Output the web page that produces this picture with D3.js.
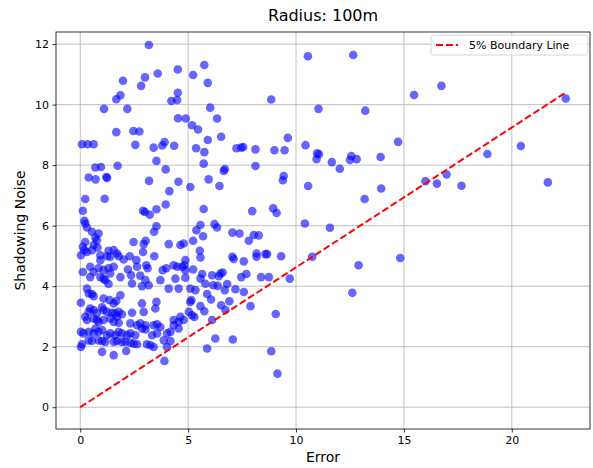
<!DOCTYPE html>
<html>
<head>
<meta charset="utf-8">
<script src="https://cdn.jsdelivr.net/npm/d3@7"></script>
<style>
  body { margin: 0; background: #fff; }
  text { font-family: "DejaVu Sans", sans-serif; fill: #000; }
</style>
</head>
<body>
<svg id="chart" width="593" height="468"></svg>
<script>
const TITLE = "Radius: 100m";
const X_LABEL = "Error";
const Y_LABEL = "Shadowing Noise";
const LEGEND_LABEL = "5% Boundary Line";

const xTicks = [0, 5, 10, 15, 20];
const yTicks = [0, 2, 4, 6, 8, 10, 12];

// boundary line endpoints (error, noise)
const boundaryX = [0, 22.5];
const boundaryY = [0, 10.4];

// scatter points
const errorVals = [
  3.18, 4.52, 5.23, 3.59, 3.0, 1.98, 2.82, 4.52, 1.86, 1.67, 4.22, 4.49, 1.1, 2.18, 4.53, 4.89, 5.18, 5.46, 1.67, 2.46,
  2.74, 0.08, 0.34, 0.62, 2.55, 3.4, 3.8, 3.91, 4.35, 5.37, 3.53,
  5.75, 5.91, 10.55, 8.85, 6.02, 11.04, 6.34, 5.91, 6.53, 9.62, 5.75, 7.24, 7.46, 7.55, 8.12, 9.0, 9.47, 10.44, 10.98,
  11.06, 10.95,
  12.65, 15.47, 16.74, 13.21, 22.5, 14.73, 11.66, 12.56, 12.81, 13.92, 18.87, 20.42, 12.03, 12.5, 16.0, 16.53, 16.98, 17.67,
  21.67, 13.95, 13.18, 11.57, 14.83, 12.9, 12.61,
  5.72, 6.65, 6.7, 8.12, 9.43, 9.39, 10.56, 5.95, 6.45, 5.1, 5.72, 7.97, 8.94, 9.1, 10.41, 5.57, 5.38, 6.22, 6.34, 5.69,
  5.23, 7.05, 7.38, 8.04, 8.27, 7.81, 5.54, 5.57, 7.05, 7.11, 8.17, 8.17, 8.58, 8.66, 9.31, 7.58, 10.75, 5.23, 5.65, 5.57,
  6.11, 6.5, 6.6, 6.42, 7.46, 7.7, 8.38, 8.74, 9.71,
  5.1, 5.34, 5.8, 6.16, 6.37, 6.81, 6.7, 7.19, 7.58, 5.88, 6.06, 5.1, 6.53, 6.91, 5.57, 5.75, 6.73, 7.89, 5.18, 5.29,
  6.11, 9.06, 6.26, 7.07, 5.88, 8.85, 9.14,
  3.96, 0.7, 0.96, 1.73, 0.39, 0.71, 1.21, 1.24, 3.19, 4.55, 4.13, 0.23, 1.13, 3.96, 0.12, 2.91, 3.22, 3.53, 3.0, 0.19,
  0.23, 3.53, 3.42, 0.31, 0.54, 0.85, 0.7, 0.23, 0.12, 0.19, 0.31, 0.03, 0.62, 0.77, 0.8, 0.54, 2.47, 3.03, 2.94, 4.1,
  4.64, 4.79, 2.91, 3.43, 1.31, 1.55, 1.7, 1.39, 1.24, 1.78, 0.93, 0.93, 2.01, 2.29, 2.6, 0.46, 0.85, 0.62, 1.08, 1.31,
  1.55, 1.39, 0.12, 2.21, 2.63, 3.06, 3.12, 2.35, 2.78, 3.82, 3.99, 4.33, 4.49, 4.87, 4.83, 4.72, 4.87, 0.46, 1.08, 1.86,
  4.41, 4.87,
  0.93, 1.16, 1.31, 2.4, 3.02, 3.17, 2.86, 3.71, 4.1, 4.56, 0.31, 0.39, 0.54, 0.62, 0.03, 1.08, 1.36, 1.55, 1.67, 1.86,
  2.86, 2.94, 3.53, 3.48, 2.4, 0.46, 0.39, 0.62, 0.77, 1.01, 1.08, 1.24, 1.47, 1.62, 1.78, 1.93, 0.23, 0.31, 0.62, 0.77,
  0.85, 1.08, 1.39, 1.55, 1.7, 1.78, 2.32, 2.63, 2.78, 3.02, 2.86, 3.4, 3.56, 3.71, 3.33, 4.33, 4.56, 4.56, 4.33, 4.64,
  4.79, 5.03, 5.15, 0.03, 0.39, 0.15, 0.62, 0.7, 0.85, 1.01, 1.24, 1.39, 1.62, 1.78, 1.93, 2.17, 2.32, 2.55, 3.02, 3.56,
  4.02, 4.18, 0.39, 0.54, 0.85, 1.01, 1.16, 1.55, 1.7, 1.93, 2.09, 2.32, 2.47, 2.63, 3.09, 3.25, 3.4, 3.87, 4.18, 4.02,
  0.03, 0.08, 1.01, 1.55, 2.13, 3.9
];
const noiseVals = [
  11.97, 11.16, 10.98, 11.03, 10.9, 10.79, 10.62, 10.39, 10.31, 10.18, 10.12, 10.15, 9.86, 9.86, 9.55, 9.54, 9.32, 9.18, 9.09, 9.13,
  9.11, 8.69, 8.69, 8.69, 8.67, 8.58, 8.65, 8.76, 8.64, 8.56, 8.14,
  11.31, 10.72, 11.6, 10.17, 9.9, 9.86, 9.54, 8.83, 8.94, 8.9, 8.43, 8.56, 8.58, 8.6, 8.52, 8.49, 8.49, 8.66, 8.39,
  8.36, 8.2,
  11.64, 10.32, 10.62, 9.8, 10.2, 8.77, 8.1, 8.3, 8.2, 8.27, 8.37, 8.63, 7.88, 8.17, 7.47, 7.39, 7.69, 7.32,
  7.43, 7.23, 6.88, 5.93, 4.93, 4.69, 3.78,
  8.05, 7.81, 7.87, 7.97, 7.64, 7.5, 7.31, 7.53, 7.31, 7.28, 6.55, 6.48, 6.57, 6.42, 6.07, 6.02, 5.85, 6.05, 5.94, 5.65,
  5.5, 5.77, 5.74, 5.69, 5.68, 5.5, 5.17, 4.95, 4.97, 4.9, 5.08, 4.97, 5.06, 5.06, 4.99, 4.82, 4.97, 4.55, 4.4, 4.25,
  4.36, 4.42, 4.45, 4.33, 4.3, 4.4, 4.3, 4.3, 4.25,
  3.92, 3.87, 4.08, 4.03, 4.01, 4.07, 3.87, 3.9, 3.81, 3.74, 3.56, 3.48, 3.37, 3.5, 3.34, 3.17, 3.21, 3.34, 3.04, 2.98,
  2.88, 3.08, 2.27, 2.24, 1.94, 1.85, 1.11,
  7.86, 7.92, 7.94, 7.98, 7.59, 7.53, 7.61, 7.58, 7.48, 7.45, 7.14, 6.88, 6.89, 6.7, 6.49, 6.49, 6.36, 6.54, 6.45, 6.16,
  6.07, 5.98, 5.8, 5.94, 5.8, 5.74, 5.61, 5.46, 5.3, 5.19, 5.13, 5.02, 5.36, 5.52, 5.28, 5.19, 5.46, 5.5, 5.39, 5.39,
  5.36, 5.41, 5.13, 4.99, 5.17, 5.19, 5.08, 4.97, 4.99, 4.99, 5.02, 4.86, 4.88, 4.99, 4.86, 4.64, 4.59, 4.47, 4.53, 4.59,
  4.64, 4.42, 4.47, 4.55, 4.64, 4.69, 4.59, 4.36, 4.35, 4.53, 4.59, 4.69, 4.64, 4.86, 4.69, 4.64, 4.53, 4.3, 4.25, 4.3,
  4.25, 4.28,
  4.3, 4.2, 4.07, 4.09, 4.2, 4.03, 4.0, 4.2, 3.92, 3.92, 3.92, 3.76, 3.74, 3.67, 3.45, 3.59, 3.54, 3.43, 3.51, 3.7,
  3.43, 3.15, 3.48, 3.26, 3.12, 3.26, 3.15, 3.21, 3.1, 3.3, 3.21, 3.15, 3.12, 3.1, 3.15, 3.07, 2.99, 2.88, 2.93, 2.88,
  2.82, 2.88, 2.93, 2.82, 2.99, 2.79, 2.77, 2.71, 2.77, 2.71, 2.6, 2.71, 2.74, 2.65, 2.38, 2.88, 2.82, 2.6, 2.71, 2.99,
  2.88, 3.15, 3.54, 2.49, 2.49, 2.44, 2.44, 2.6, 2.49, 2.55, 2.38, 2.44, 2.38, 2.49, 2.44, 2.38, 2.44, 2.38, 2.57, 2.44,
  2.44, 2.49, 2.21, 2.19, 2.21, 2.19, 2.16, 2.16, 2.19, 2.16, 2.16, 2.13, 2.1, 2.08, 2.08, 2.05, 1.99, 2.21, 2.19, 1.99,
  1.99, 2.08, 1.83, 1.72, 1.86, 1.53
];

const points = errorVals.map((e, i) => ({ error: e, noise: noiseVals[i] }));

const MARGIN = { left: 56, right: 3, top: 32, bottom: 39 };
const WIDTH = 593;
const HEIGHT = 468;

const svg = d3.select("#chart");

const x = d3.scaleLinear()
  .domain([-1.125, 23.625])
  .range([MARGIN.left, WIDTH - MARGIN.right]);

const y = d3.scaleLinear()
  .domain([-0.72, 12.4])
  .range([HEIGHT - MARGIN.bottom, MARGIN.top]);

// grid
svg.append("g")
  .selectAll("line")
  .data(xTicks)
  .enter()
  .append("line")
  .attr("x1", d => x(d))
  .attr("x2", d => x(d))
  .attr("y1", y.range()[0])
  .attr("y2", y.range()[1])
  .attr("stroke", "#b0b0b0")
  .attr("stroke-width", 0.8);

svg.append("g")
  .selectAll("line")
  .data(yTicks)
  .enter()
  .append("line")
  .attr("x1", x.range()[0])
  .attr("x2", x.range()[1])
  .attr("y1", d => y(d))
  .attr("y2", d => y(d))
  .attr("stroke", "#b0b0b0")
  .attr("stroke-width", 0.8);

// scatter
svg.append("g")
  .selectAll("circle")
  .data(points)
  .enter()
  .append("circle")
  .attr("cx", d => x(d.error))
  .attr("cy", d => y(d.noise))
  .attr("r", 4.3)
  .attr("fill", "blue")
  .attr("fill-opacity", 0.6);

// boundary line
const line = d3.line()
  .x(d => x(d[0]))
  .y(d => y(d[1]));

svg.append("path")
  .attr("d", line(boundaryX.map((d, i) => [d, boundaryY[i]])))
  .attr("fill", "none")
  .attr("stroke", "red")
  .attr("stroke-width", 2)
  .attr("stroke-dasharray", "7,3");

// axes
const xAxis = svg.append("g")
  .attr("transform", `translate(0,${HEIGHT - MARGIN.bottom})`)
  .call(d3.axisBottom(x).tickValues(xTicks).tickSize(3.5).tickPadding(3.5));

const yAxis = svg.append("g")
  .attr("transform", `translate(${MARGIN.left},0)`)
  .call(d3.axisLeft(y).tickValues(yTicks).tickSize(3.5).tickPadding(3.5));

[xAxis, yAxis].forEach(g => {
  g.select(".domain").remove();
  g.selectAll("text").attr("font-size", 11).attr("font-family", "DejaVu Sans");
  g.selectAll("line").attr("stroke", "#000").attr("stroke-width", 0.8);
});

// frame
svg.append("rect")
  .attr("x", MARGIN.left)
  .attr("y", MARGIN.top)
  .attr("width", WIDTH - MARGIN.left - MARGIN.right)
  .attr("height", HEIGHT - MARGIN.top - MARGIN.bottom)
  .attr("fill", "none")
  .attr("stroke", "#000")
  .attr("stroke-width", 0.8);

// labels
svg.append("text")
  .attr("x", (x.range()[0] + x.range()[1]) / 2)
  .attr("y", 21)
  .attr("text-anchor", "middle")
  .attr("font-size", 16)
  .text(TITLE);

svg.append("text")
  .attr("x", (x.range()[0] + x.range()[1]) / 2)
  .attr("y", 462)
  .attr("text-anchor", "middle")
  .attr("font-size", 14)
  .text(X_LABEL);

svg.append("text")
  .attr("transform", `translate(25,${(y.range()[0] + y.range()[1]) / 2}) rotate(-90)`)
  .attr("text-anchor", "middle")
  .attr("font-size", 14)
  .text(Y_LABEL);

// legend
const legend = svg.append("g")
  .attr("transform", "translate(431,35)");

legend.append("rect")
  .attr("width", 157)
  .attr("height", 20)
  .attr("rx", 2.5)
  .attr("fill", "#fff")
  .attr("fill-opacity", 0.8)
  .attr("stroke", "#cccccc")
  .attr("stroke-width", 0.8);

legend.append("line")
  .attr("x1", 5)
  .attr("x2", 27)
  .attr("y1", 10)
  .attr("y2", 10)
  .attr("stroke", "red")
  .attr("stroke-width", 2)
  .attr("stroke-dasharray", "7,3");

legend.append("text")
  .attr("x", 38)
  .attr("y", 14)
  .attr("font-size", 11)
  .text(LEGEND_LABEL);
</script>
</body>
</html>
